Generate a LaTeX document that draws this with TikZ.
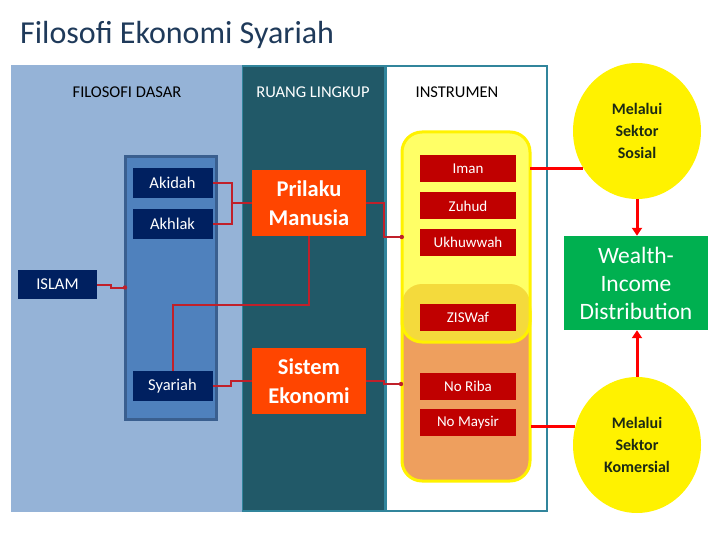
\documentclass[tikz,border=0pt]{standalone}
\usepackage{fontspec}
\setmainfont{Carlito}
\usetikzlibrary{shapes.geometric,arrows.meta}
\definecolor{ltblue}{HTML}{95B3D7}
\definecolor{dkteal}{HTML}{215968}
\definecolor{brteal}{HTML}{31859C}
\definecolor{navy}{HTML}{002060}
\definecolor{inblue}{HTML}{4F81BD}
\definecolor{inborder}{HTML}{3A5F8F}
\definecolor{boxred}{HTML}{C00000}
\definecolor{hotorange}{HTML}{FF4500}
\definecolor{paleyellow}{HTML}{FFFF66}
\definecolor{goldband}{HTML}{F4DA3C}
\definecolor{softorange}{HTML}{EE9F5E}
\definecolor{dgreen}{HTML}{00B050}
\definecolor{linkred}{HTML}{C0202A}
\definecolor{titlecol}{HTML}{1F3A5A}
\definecolor{circtext}{HTML}{1C2A14}
\tikzset{
  navybox/.style={fill=navy,text=white,minimum width=80pt,minimum height=30pt,inner sep=0pt,font=\fontsize{16.5}{18}\selectfont},
  redbox/.style={fill=boxred,text=white,minimum width=96pt,minimum height=27pt,inner sep=0pt,font=\fontsize{15}{17}\selectfont},
  hotbox/.style={fill=hotorange,text=white,minimum width=114pt,minimum height=66pt,inner sep=0pt,align=center,font=\bfseries\fontsize{22.5}{29}\selectfont},
  circ/.style={ellipse,fill=yellow,minimum width=128pt,minimum height=136pt,inner sep=0pt,align=center,text=circtext,font=\bfseries\fontsize{16}{22}\selectfont},
  link/.style={draw=linkred,line width=2pt},
  rline/.style={draw=red,line width=3pt},
  rarrow/.style={draw=red,line width=3pt,-{Triangle[width=10pt,length=8pt]}},
  paneltitle/.style={font=\fontsize{16.5}{18}\selectfont}
}
\begin{document}
\begin{tikzpicture}[x=1pt,y=-1pt]
\useasboundingbox (0,0) rectangle (720,540);
% title
\node[anchor=base west,inner sep=0pt,text=titlecol,font=\fontsize{32}{36}\selectfont] (title) at (20,44) {Filosofi Ekonomi Syariah};
% panels
\fill[ltblue] (11,65) rectangle (242,512);
\fill[brteal] (242,65) rectangle (548,512);
\fill[dkteal] (243,67.5) rectangle (384,509.5);
\fill[white] (387,67.5) rectangle (545.5,509.5);
\node[paneltitle] (lt1) at (127,92) {FILOSOFI DASAR};
\node[paneltitle,text=white] (lt2) at (313,92) {RUANG LINGKUP};
\node[paneltitle] (lt3) at (457,92) {INSTRUMEN};
% inner blue column
\node[draw=inborder,line width=3pt,fill=inblue,minimum width=91pt,minimum height=263pt,inner sep=0pt] (inner) at (171,288) {};
\node[navybox] (akidah) at (172.5,183) {Akidah};
\node[navybox] (akhlak) at (172.5,224) {Akhlak};
\node[navybox] (syariah) at (172.5,386) {Syariah};
\node[navybox,minimum width=79pt,minimum height=29pt] (islam) at (57.5,284.5) {ISLAM};
% ruang lingkup
\node[hotbox] (prilaku) at (309,203) {Prilaku\\Manusia};
\node[hotbox] (sistem) at (309,381) {Sistem\\Ekonomi};
% instrumen
\node[draw=yellow,line width=3pt,fill=softorange,rounded corners=20pt,minimum width=128pt,minimum height=190pt,inner sep=0pt] (ob) at (466,386) {};
\node[fill=paleyellow,rounded corners=20pt,minimum width=128pt,minimum height=210pt,inner sep=0pt] (yb) at (466,237) {};
\node[fill=goldband,rounded corners=20pt,minimum width=128pt,minimum height=58pt,inner sep=0pt] (band) at (466,313) {};
\node[draw=yellow,line width=3pt,rounded corners=20pt,minimum width=128pt,minimum height=210pt,inner sep=0pt] (ybframe) at (yb) {};
\node[redbox] (iman) at (468,169) {Iman};
\node[redbox] (zuhud) at (468,206) {Zuhud};
\node[redbox] (ukhuwwah) at (468,242.5) {Ukhuwwah};
\node[redbox] (ziswaf) at (468,317) {ZISWaf};
\node[redbox] (riba) at (468,386.5) {No Riba};
\node[redbox] (maysir) at (468,422.5) {No Maysir};
% right column
\node[circ] (sos) at (637,131) {Melalui\\Sektor\\Sosial};
\node[circ] (kom) at (637,445) {Melalui\\Sektor\\Komersial};
\node[fill=dgreen,text=white,minimum width=144pt,minimum height=94pt,inner sep=0pt,align=center,font=\fontsize{23.5}{28}\selectfont] (wid) at (636,283) {Wealth-\\Income\\Distribution};
% connectors
\coordinate (brk) at (232,203);
\draw[link] (akidah.east) -| (brk) |- (akhlak.east);
\draw[link] (brk) -- (prilaku.west);
\coordinate (islamin) at (125,287.5);
\draw[link] (islam.east) -- ++(14,0) |- (islamin);
\fill[linkred] (islamin) circle (2.2);
\draw[link] (prilaku.south) -- ++(0,69) -| (syariah.north);
\draw[link] (syariah.east) -- ++(18.5,0) |- (sistem.west);
\draw[link] (prilaku.east) -- ++(18,0) |- (yb.west);
\fill[linkred] (yb.west) circle (2.2);
\coordinate (obin) at (401,384);
\draw[link] (sistem.east) -- ++(18,0) |- (obin);
\fill[linkred] (obin) circle (2.2);
\draw[rline] (iman.east -| yb.east) -- (iman.east -| sos.214);
\coordinate (komin) at (531,426);
\draw[rline] (komin) -- (komin -| kom.163);
\draw[rarrow] (sos.south) -- (sos.south |- wid.north);
\draw[rarrow] (kom.north) -- (kom.north |- wid.south);
\end{tikzpicture}
\end{document}
